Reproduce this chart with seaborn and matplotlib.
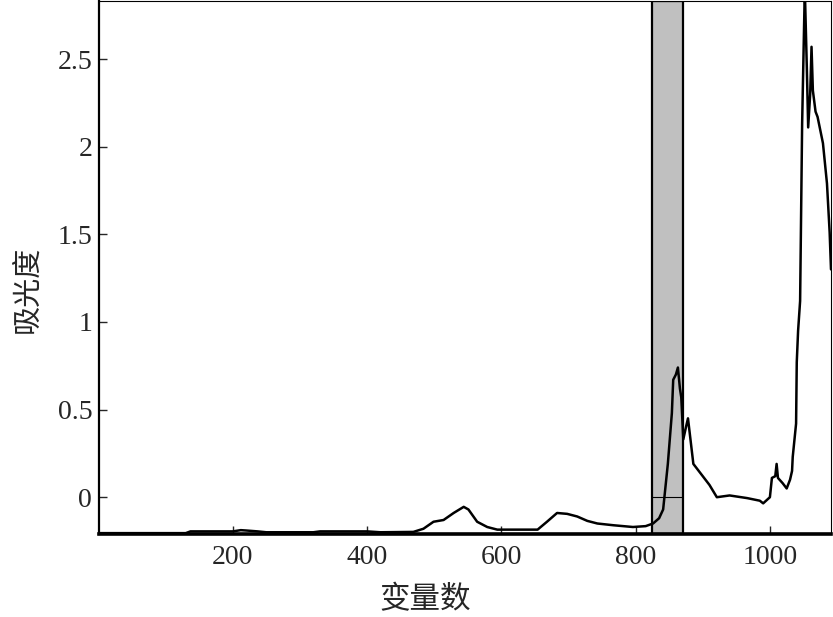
import numpy as np
import pandas as pd
import matplotlib
matplotlib.use("Agg")
import matplotlib.pyplot as plt
import seaborn as sns

# spectrum
variables = [1, 60, 130, 137, 200, 212, 220, 237, 250, 320, 330, 400, 420, 469, 484,
             499, 514, 529, 544, 551, 564, 579, 594, 654, 668, 683, 698, 713, 728, 743,
             767, 796, 815, 826, 835, 841, 848, 854, 856, 860, 863, 866, 868, 871, 875,
             878, 882, 886, 896, 910, 921, 940, 966, 985, 990, 1000, 1003, 1008, 1010,
             1012, 1019, 1025, 1030, 1033, 1034, 1039, 1040, 1042, 1045, 1048, 1052,
             1054, 1055, 1057, 1060, 1062, 1064, 1068, 1071, 1079, 1085, 1089, 1091]
absorbance = [-0.205, -0.205, -0.205, -0.195, -0.195, -0.188, -0.19, -0.195, -0.2, -0.2,
              -0.195, -0.195, -0.2, -0.198, -0.18, -0.14, -0.13, -0.09, -0.055, -0.07,
              -0.14, -0.17, -0.185, -0.185, -0.14, -0.09, -0.095, -0.11, -0.135, -0.15,
              -0.16, -0.17, -0.165, -0.15, -0.12, -0.07, 0.19, 0.48, 0.67, 0.70, 0.74,
              0.62, 0.57, 0.33, 0.40, 0.45, 0.32, 0.19, 0.14, 0.07, 0.0, 0.01, -0.005,
              -0.02, -0.035, 0.0, 0.11, 0.12, 0.19, 0.11, 0.08, 0.05, 0.10, 0.15, 0.23,
              0.42, 0.77, 0.95, 1.12, 2.13, 2.9, 2.6, 2.45, 2.11, 2.3, 2.57, 2.32, 2.2,
              2.17, 2.02, 1.79, 1.51, 1.3]

band = (825, 871)   # selected interval
xticks = [200, 400, 600, 800, 1000]
yticks = [0, 0.5, 1, 1.5, 2, 2.5]
ytick_labels = ["0", "0.5", "1", "1.5", "2", "2.5"]

df = pd.DataFrame({"var": variables, "abs": absorbance})

sns.set_style("ticks")
plt.rcParams["font.family"] = ["Liberation Serif", "Noto Sans CJK SC"]

fig = plt.figure(figsize=(8.33, 6.17), dpi=100)
ax = fig.add_axes([0.119, 0.1345, 0.8786, 0.8635])

ax.axvspan(band[0], band[1], facecolor="#c0c0c0", edgecolor="black", lw=1.6, zorder=1)
ax.hlines(0, band[0], band[1], color="black", lw=0.8, zorder=2)
sns.lineplot(data=df, x="var", y="abs", color="black", lw=1.8, ax=ax, zorder=3)

ax.set_xlim(1, 1091)
ax.set_ylim(-0.21, 2.83)
ax.set_xticks(xticks)
ax.set_yticks(yticks)
ax.set_yticklabels(ytick_labels)
ax.tick_params(direction="in", length=6, width=1, labelsize=20)
ax.tick_params(axis="x", pad=8)
ax.tick_params(axis="y", pad=5)

ax.set_xlabel("变量数", family=["Noto Sans CJK SC"], fontsize=22)
ax.set_ylabel("吸光度", family=["Noto Sans CJK SC"], fontsize=21)
ax.xaxis.set_label_coords(0.445, -0.095)
ax.yaxis.set_label_coords(-0.078, 0.46)

for side, w in [("left", 1.6), ("bottom", 2.6), ("top", 0.8), ("right", 0.8)]:
    ax.spines[side].set_visible(True)
    ax.spines[side].set_linewidth(w)
    ax.spines[side].set_color("black")

fig.savefig("out.png", dpi=100)
